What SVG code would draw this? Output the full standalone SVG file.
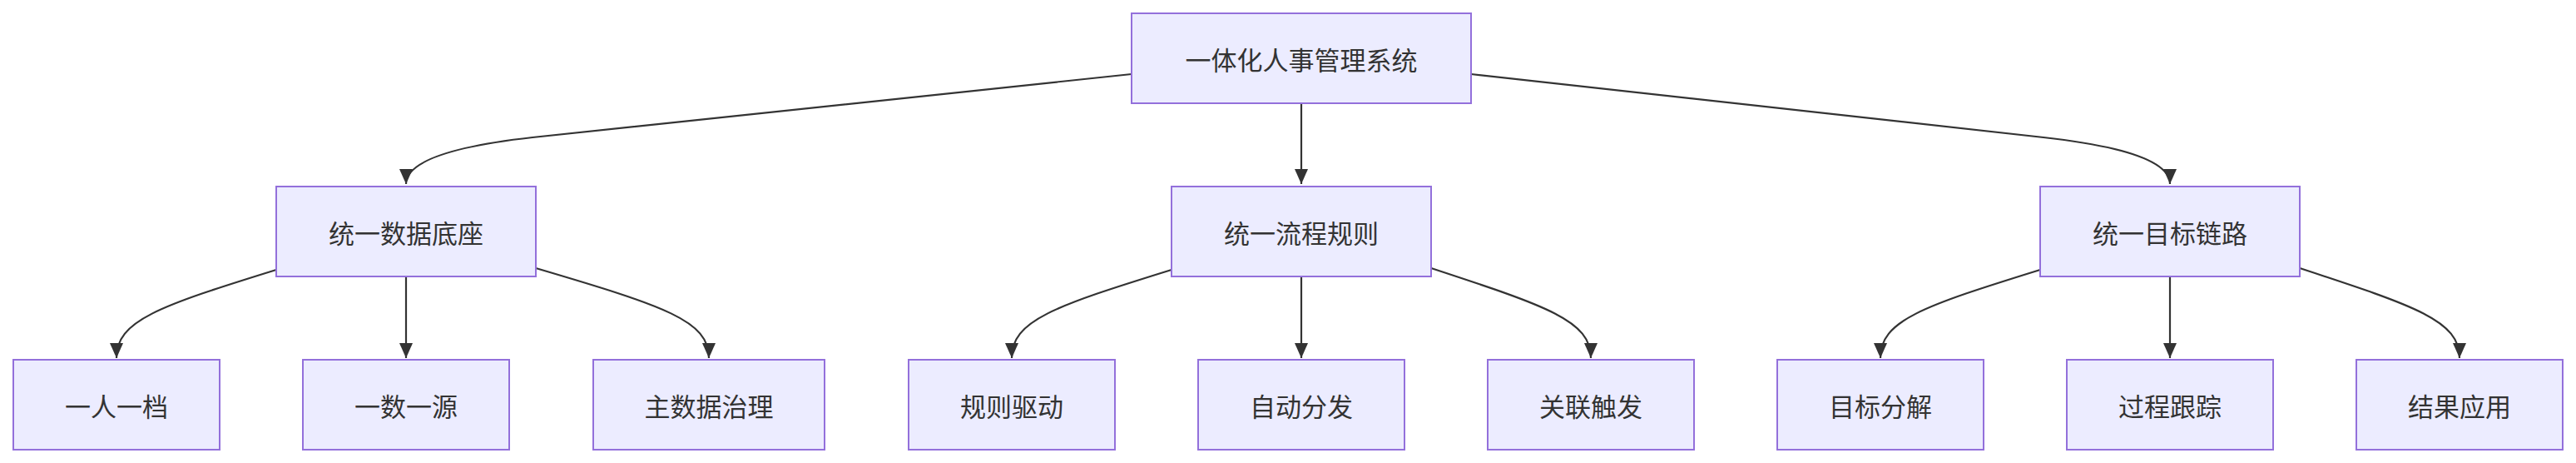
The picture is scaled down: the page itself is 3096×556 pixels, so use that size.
<svg xmlns="http://www.w3.org/2000/svg" width="3096" height="556" viewBox="0 0 3096 556">
<style>
.n rect{fill:#ECECFF;stroke:#9370DB;stroke-width:2}
.n text{font-family:"Noto Sans CJK SC","Liberation Sans",sans-serif;font-size:31px;fill:#333;text-anchor:middle;dominant-baseline:central}
.e path{fill:none;stroke:#333;stroke-width:2.2}
</style>
<defs>
<marker id="a" markerUnits="userSpaceOnUse" markerWidth="20" markerHeight="20" refX="18" refY="8" orient="auto" viewBox="0 0 20 16">
<path d="M0,0 L18,8 L0,16 Z" fill="#333"/>
</marker>
</defs>
<rect width="3096" height="556" fill="#fff"/>
<g class="e">
<path d="M1360,89 L640,165 Q488,182 488,221" marker-end="url(#a)"/>
<path d="M1564,124 L1564,221" marker-end="url(#a)"/>
<path d="M1768,89 L2456,165 Q2608,182 2608,221" marker-end="url(#a)"/>
<path d="M332,324 C190,368 140,385 140,430" marker-end="url(#a)"/>
<path d="M488,332 L488,430" marker-end="url(#a)"/>
<path d="M644,322 C800,368 852,385 852,430" marker-end="url(#a)"/>
<path d="M1408,324 C1266,368 1216,385 1216,430" marker-end="url(#a)"/>
<path d="M1564,332 L1564,430" marker-end="url(#a)"/>
<path d="M1720,322 C1860,368 1912,385 1912,430" marker-end="url(#a)"/>
<path d="M2452,324 C2310,368 2260,385 2260,430" marker-end="url(#a)"/>
<path d="M2608,332 L2608,430" marker-end="url(#a)"/>
<path d="M2764,322 C2904,368 2956,385 2956,430" marker-end="url(#a)"/>
</g>
<g id="root" class="n"><rect x="1360" y="16" width="408" height="108"/><text x="1564" y="70">一体化人事管理系统</text></g>
<g id="data" class="n"><rect x="332" y="224" width="312" height="108"/><text x="488" y="278">统一数据底座</text></g>
<g id="flow" class="n"><rect x="1408" y="224" width="312" height="108"/><text x="1564" y="278">统一流程规则</text></g>
<g id="goal" class="n"><rect x="2452" y="224" width="312" height="108"/><text x="2608" y="278">统一目标链路</text></g>
<g id="l1" class="n"><rect x="16" y="432" width="248" height="108"/><text x="140" y="486">一人一档</text></g>
<g id="l2" class="n"><rect x="364" y="432" width="248" height="108"/><text x="488" y="486">一数一源</text></g>
<g id="l3" class="n"><rect x="713" y="432" width="278" height="108"/><text x="852" y="486">主数据治理</text></g>
<g id="l4" class="n"><rect x="1092" y="432" width="248" height="108"/><text x="1216" y="486">规则驱动</text></g>
<g id="l5" class="n"><rect x="1440" y="432" width="248" height="108"/><text x="1564" y="486">自动分发</text></g>
<g id="l6" class="n"><rect x="1788" y="432" width="248" height="108"/><text x="1912" y="486">关联触发</text></g>
<g id="l7" class="n"><rect x="2136" y="432" width="248" height="108"/><text x="2260" y="486">目标分解</text></g>
<g id="l8" class="n"><rect x="2484" y="432" width="248" height="108"/><text x="2608" y="486">过程跟踪</text></g>
<g id="l9" class="n"><rect x="2832" y="432" width="248" height="108"/><text x="2956" y="486">结果应用</text></g>
</svg>
